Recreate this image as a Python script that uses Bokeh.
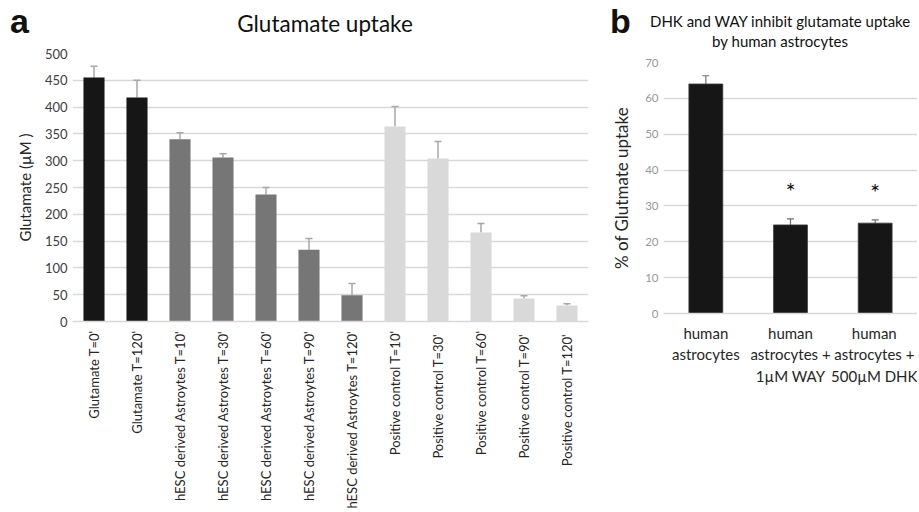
import math
from bokeh.plotting import figure
from bokeh.models import ColumnDataSource, Whisker, TeeHead, FactorRange, Div
from bokeh.layouts import row, column
from bokeh.embed import file_html
from bokeh.resources import INLINE
from bokeh.core.properties import value

# ---------------- data: panel a ----------------
a_title = "Glutamate uptake"
a_categories = [
    "Glutamate T=0'", "Glutamate T=120'",
    "hESC derived Astroytes T=10'", "hESC derived Astroytes T=30'",
    "hESC derived Astroytes T=60'", "hESC derived Astroytes T=90'",
    "hESC derived Astroytes T=120'",
    "Positive control T=10'", "Positive control  T=30'",
    "Positive control T=60'", "Positive control  T=90'",
    "Positive control  T=120'",
]
a_values = [455, 418, 340, 306, 237, 134, 49, 364, 304, 166, 43, 30]
a_errors = [21, 32, 12, 7, 13, 21, 22, 37, 32, 17, 5, 3]
a_groups = ["glutamate", "glutamate",
            "hesc", "hesc", "hesc", "hesc", "hesc",
            "positive", "positive", "positive", "positive", "positive"]
a_yticks = [0, 50, 100, 150, 200, 250, 300, 350, 400, 450, 500]

# ---------------- data: panel b ----------------
b_title = ["DHK and WAY inhibit glutamate uptake", "by human astrocytes"]
b_categories = ["human\nastrocytes", "human\nastrocytes +\n1µM WAY",
                "human\nastrocytes +\n500µM DHK"]
b_values = [64.0, 24.7, 25.2]
b_errors = [2.3, 1.7, 0.9]
b_marks = ["", "*", "*"]
b_yticks = [0, 10, 20, 30, 40, 50, 60, 70]

# ---------------- styles ----------------
group_colors = {"glutamate": "#161616", "hesc": "#767676", "positive": "#d9d9d9"}
FONT = "Lato"
GRID = "#d9d9d9"
ERR_A = "#a8a8a8"
ERR_B = "#707070"


def style_axes(p, ytick_size, ytick_color, ylabel_size):
    p.outline_line_color = None
    p.xgrid.grid_line_color = None
    p.ygrid.grid_line_color = GRID
    p.ygrid.grid_line_width = 1.5
    p.yaxis.axis_line_color = None
    p.yaxis.major_tick_line_color = None
    p.yaxis.minor_tick_line_color = None
    p.yaxis.major_tick_out = 0
    p.yaxis.major_label_text_font = FONT
    p.yaxis.major_label_text_font_size = ytick_size
    p.yaxis.major_label_text_color = ytick_color
    p.yaxis.axis_label_text_font = FONT
    p.yaxis.axis_label_text_font_size = ylabel_size
    p.yaxis.axis_label_text_font_style = "normal"
    p.yaxis.axis_label_text_color = "#262626"
    p.xaxis.axis_line_color = GRID
    p.xaxis.axis_line_width = 1.5
    p.xaxis.major_tick_line_color = None
    p.xaxis.minor_tick_line_color = None
    p.xaxis.major_tick_out = 0
    p.xaxis.major_label_text_font = FONT
    p.xaxis.major_label_text_color = "#262626"


# ---------------- panel a ----------------
src_a = ColumnDataSource(dict(
    cat=a_categories, val=a_values,
    upper=[v + e for v, e in zip(a_values, a_errors)],
    color=[group_colors[g] for g in a_groups],
))

pa = figure(frame_width=516, frame_height=268, x_range=FactorRange(*a_categories),
            y_range=(0, 500), output_backend="svg", toolbar_location=None,
            min_border_left=65, min_border_right=11, min_border_top=11,
            min_border_bottom=10)
pa.vbar(x="cat", top="val", width=0.49, source=src_a, fill_color="color",
        line_color=None)
pa.add_layout(Whisker(base="cat", lower="val", upper="upper", source=src_a,
                      line_color=ERR_A, line_width=1.5,
                      upper_head=TeeHead(size=7, line_color=ERR_A, line_width=1.5),
                      lower_head=None))
style_axes(pa, "13px", "#404040", "15px")
pa.yaxis.ticker = a_yticks
pa.yaxis.axis_label = "Glutamate (µM )"
pa.yaxis.axis_label_standoff = 8
pa.xaxis.major_label_orientation = math.pi / 2
pa.xaxis.major_label_text_font_size = "13px"
pa.xaxis.major_label_standoff = 9

header_a = Div(
    text=(
        '<div style="position:relative;width:592px;height:35px;">'
        '<span style="position:absolute;left:3px;top:0px;line-height:28px;'
        'font-family:\'Liberation Sans\';font-weight:bold;font-size:34px;'
        'color:#111;">a</span>'
        '<span style="position:absolute;left:148px;width:340px;top:6px;'
        'line-height:22px;text-align:center;font-family:Lato;font-size:22.5px;'
        'color:#111;white-space:nowrap;">' + a_title + '</span></div>'
    ),
    width=592, height=35, margin=0,
)

# ---------------- panel b ----------------
src_b = ColumnDataSource(dict(
    cat=b_categories, val=b_values,
    upper=[v + e for v, e in zip(b_values, b_errors)],
    mark=b_marks,
    mark_y=[v + e + 8 for v, e in zip(b_values, b_errors)],
))

pb = figure(frame_width=254, frame_height=251, x_range=FactorRange(*b_categories),
            y_range=(0, 70), output_backend="svg", toolbar_location=None,
            min_border_left=64, min_border_right=0, min_border_top=11,
            min_border_bottom=10)
pb.vbar(x="cat", top="val", width=0.4, source=src_b, fill_color="#161616",
        line_color="#3a3a3a", line_width=0.8)
pb.add_layout(Whisker(base="cat", lower="val", upper="upper", source=src_b,
                      line_color=ERR_B, line_width=1.2,
                      upper_head=TeeHead(size=7, line_color=ERR_B, line_width=1.2),
                      lower_head=None))
pb.text(x="cat", y="mark_y", text="mark", source=src_b, text_align="center",
        text_baseline="middle", text_font=value(FONT), text_font_size="24px",
        text_color="#111111")
style_axes(pb, "11.5px", "#999999", "17px")
pb.yaxis.ticker = b_yticks
pb.yaxis.axis_label = "% of Glutmate uptake"
pb.yaxis.axis_label_standoff = 10
pb.xaxis.major_label_text_font_size = "15px"
pb.xaxis.major_label_standoff = 10

header_b = Div(
    text=(
        '<div style="position:relative;width:311px;height:44px;">'
        '<span style="position:absolute;left:11px;top:0px;line-height:28px;'
        'font-family:\'Liberation Sans\';font-weight:bold;font-size:34px;'
        'color:#111;">b</span>'
        '<div style="position:absolute;left:51px;right:0px;top:4px;'
        'line-height:20px;text-align:center;font-family:Lato;font-size:15px;'
        'color:#111;white-space:nowrap;">' + b_title[0] + '<br>' + b_title[1]
        + '</div></div>'
    ),
    width=311, height=44, margin=0,
)

layout = row(column(header_a, pa), column(header_b, pb), margin=(7, 0, 0, 7))
open("out.html", "w").write(file_html(layout, INLINE))
